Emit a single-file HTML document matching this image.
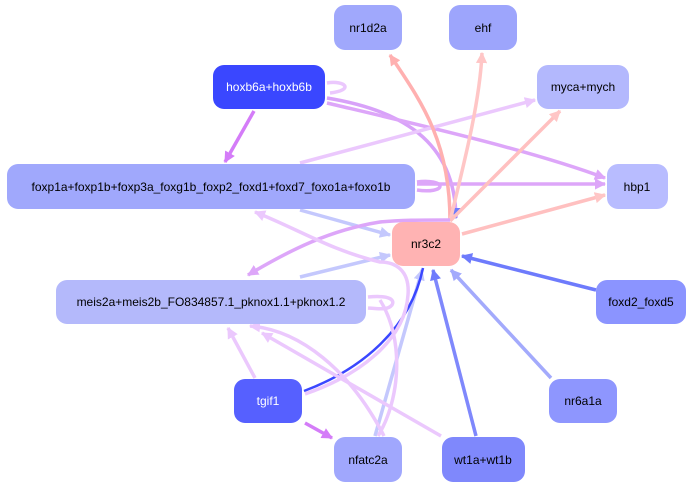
<!DOCTYPE html>
<html><head><meta charset="utf-8"><style>
html,body{margin:0;padding:0;background:#fff;width:693px;height:489px;overflow:hidden}
text{font-family:"Liberation Sans",sans-serif;font-size:12px;text-anchor:middle;dominant-baseline:central}
</style></head><body>
<svg width="693" height="489" viewBox="0 0 693 489" xmlns="http://www.w3.org/2000/svg">
<defs>
<marker id="mP" viewBox="0 0 10 10" refX="9" refY="5" markerWidth="3.2" markerHeight="3.2" orient="auto" markerUnits="strokeWidth"><path d="M0,0L10,5L0,10z" fill="#dda6f9"/></marker>
<marker id="mP2" viewBox="0 0 10 10" refX="9" refY="5" markerWidth="3.2" markerHeight="3.2" orient="auto" markerUnits="strokeWidth"><path d="M0,0L10,5L0,10z" fill="#d47cf8"/></marker>
<marker id="mL" viewBox="0 0 10 10" refX="9" refY="5" markerWidth="3.2" markerHeight="3.2" orient="auto" markerUnits="strokeWidth"><path d="M0,0L10,5L0,10z" fill="#ebc8fd"/></marker>
<marker id="mR" viewBox="0 0 10 10" refX="9" refY="5" markerWidth="3.2" markerHeight="3.2" orient="auto" markerUnits="strokeWidth"><path d="M0,0L10,5L0,10z" fill="#ffb0b0"/></marker>
<marker id="mR2" viewBox="0 0 10 10" refX="9" refY="5" markerWidth="3.2" markerHeight="3.2" orient="auto" markerUnits="strokeWidth"><path d="M0,0L10,5L0,10z" fill="#ffc6c6"/></marker>
<marker id="mB" viewBox="0 0 10 10" refX="9" refY="5" markerWidth="3.2" markerHeight="3.2" orient="auto" markerUnits="strokeWidth"><path d="M0,0L10,5L0,10z" fill="#6e7bfc"/></marker>
<marker id="mB2" viewBox="0 0 10 10" refX="9" refY="5" markerWidth="3.2" markerHeight="3.2" orient="auto" markerUnits="strokeWidth"><path d="M0,0L10,5L0,10z" fill="#a3aafc"/></marker>
<marker id="mB3" viewBox="0 0 10 10" refX="9" refY="5" markerWidth="3.2" markerHeight="3.2" orient="auto" markerUnits="strokeWidth"><path d="M0,0L10,5L0,10z" fill="#c4c8fd"/></marker>
<marker id="mB4" viewBox="0 0 10 10" refX="9" refY="5" markerWidth="3.2" markerHeight="3.2" orient="auto" markerUnits="strokeWidth"><path d="M0,0L10,5L0,10z" fill="#3a47ff"/></marker>
</defs>
<g fill="none" stroke-width="3.5">
<!-- hoxb6a edges -->
<path d="M254,111 L225,162" stroke="#d47cf8" marker-end="url(#mP2)"/>
<path d="M327,83 C345,80 355,90 330,93" stroke="#ebc8fd"/>
<path d="M327,98 C400,110 455,140 456,218" stroke="#d8a2f9" marker-end="url(#mB)"/>
<path d="M327,103 C420,125 530,150 605,178" stroke="#dda6f9" marker-end="url(#mP)"/>
<!-- foxp edges -->
<path d="M300,163 L535,100" stroke="#ebc8fd" marker-end="url(#mL)"/>
<path d="M417,184 L605,184" stroke="#dda6f9" marker-end="url(#mP)"/>
<path d="M417,182 C430,180 440,183 440,186 C440,190 430,192 417,190" stroke="#dda6f9"/>
<path d="M300,210 L390,235" stroke="#c4c8fd" marker-end="url(#mB3)"/>
<!-- nr3c2 outgoing -->
<path d="M450,221 C450,140 420,100 390,55" stroke="#ffb0b0" marker-end="url(#mR)"/>
<path d="M450,221 C465,160 480,100 482,53" stroke="#ffc6c6" marker-end="url(#mR2)"/>
<path d="M450,221 L560,111" stroke="#ffc0c0" marker-end="url(#mR2)"/>
<path d="M462,234 L605,195" stroke="#ffc0c0" marker-end="url(#mR2)"/>
<path d="M450,220 C420,220 400,220 380,222 C330,230 290,250 248,275" stroke="#dda6f9" marker-end="url(#mP)"/>
<!-- to nr3c2 -->
<path d="M300,277 L390,255" stroke="#c4c8fd" marker-end="url(#mB3)"/>
<path d="M596,290 L462,256" stroke="#6e7bfc" marker-end="url(#mB)"/>
<path d="M551,378 L451,270" stroke="#a3aafc" marker-end="url(#mB2)"/>
<path d="M476,436 L433,270" stroke="#7f88fc" marker-end="url(#mB)"/>
<path d="M375,436 L422,270" stroke="#c4c8fd" marker-end="url(#mB3)"/>
<path d="M304,391 C360,370 410,330 423,268" stroke="#3a47ff" stroke-width="2.5"/>
<path d="M305,394 C360,375 405,340 408,295 C410,270 395,262 380,262 C330,250 300,230 255,212" stroke="#ebc8fd" marker-end="url(#mL)"/>
<!-- meis -->
<path d="M368,297 C390,295 395,300 392,305 C388,310 380,309 368,308" stroke="#ebc8fd"/>
<path d="M255,378 L228,328" stroke="#ebc8fd" marker-end="url(#mL)"/>
<path d="M384,436 C350,370 300,330 250,326" stroke="#ebc8fd" marker-end="url(#mL)"/>
<path d="M441,436 L262,333" stroke="#ebc8fd" marker-end="url(#mL)"/>
<path d="M378,436 C400,400 405,340 380,300" stroke="#ebc8fd"/>
<!-- tgif1 to nfatc2a -->
<path d="M305,423 L332,438" stroke="#d47cf8" marker-end="url(#mP2)"/>
</g>
<g stroke="#fff" stroke-width="0">
<rect x="334" y="5" width="68" height="45" rx="11" fill="#a0a8fc"/>
<rect x="449" y="5" width="68" height="45" rx="11" fill="#9da5fc"/>
<rect x="213" y="65" width="112" height="44" rx="11" fill="#3a47ff"/>
<rect x="537" y="65" width="92" height="44" rx="11" fill="#b3b8fd"/>
<rect x="7" y="164" width="408" height="45" rx="11" fill="#a0a8fc"/>
<rect x="607" y="164" width="61" height="45" rx="11" fill="#b8bcff"/>
<rect x="392" y="222" width="68" height="44" rx="11" fill="#ffb3b3"/>
<rect x="56" y="280" width="310" height="44" rx="11" fill="#b4b9fb"/>
<rect x="596" y="280" width="90" height="44" rx="11" fill="#8b94ff"/>
<rect x="234" y="379" width="68" height="44" rx="11" fill="#5660ff"/>
<rect x="549" y="379" width="68" height="44" rx="11" fill="#8e96fe"/>
<rect x="334" y="437" width="68" height="45" rx="11" fill="#a0a7fd"/>
<rect x="442" y="437" width="83" height="45" rx="11" fill="#7f88fc"/>
</g>
<g fill="#000">
<text x="368" y="28">nr1d2a</text>
<text x="483" y="28">ehf</text>
<text x="269" y="87" fill="#fff">hoxb6a+hoxb6b</text>
<text x="583" y="87">myca+mych</text>
<text x="211" y="187">foxp1a+foxp1b+foxp3a_foxg1b_foxp2_foxd1+foxd7_foxo1a+foxo1b</text>
<text x="637" y="187">hbp1</text>
<text x="426" y="244">nr3c2</text>
<text x="211" y="302">meis2a+meis2b_FO834857.1_pknox1.1+pknox1.2</text>
<text x="641" y="302">foxd2_foxd5</text>
<text x="268" y="401" fill="#fff">tgif1</text>
<text x="583" y="401">nr6a1a</text>
<text x="368" y="460">nfatc2a</text>
<text x="483" y="460">wt1a+wt1b</text>
</g>
</svg>
</body></html>
